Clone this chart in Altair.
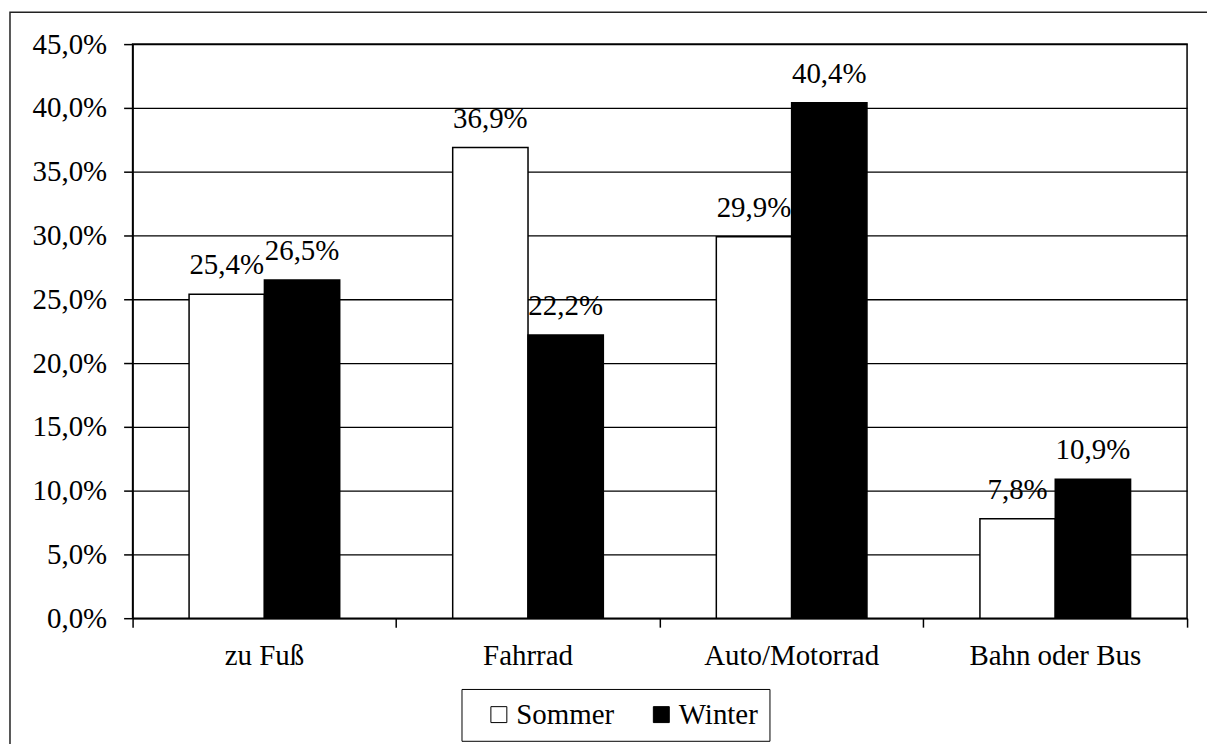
import altair as alt
import pandas as pd

categories = ["zu Fuß", "Fahrrad", "Auto/Motorrad", "Bahn oder Bus"]
seasons = ["Sommer", "Winter"]
sommer = [25.4, 36.9, 29.9, 7.8]
winter = [26.5, 22.2, 40.4, 10.9]

rows = []
for c, s, w in zip(categories, sommer, winter):
    rows.append({"cat": c, "season": "Sommer", "value": s})
    rows.append({"cat": c, "season": "Winter", "value": w})
df = pd.DataFrame(rows)

FONT = "Liberation Serif"
FS = 29

x = alt.X("cat:N", sort=categories, title=None,
          scale=alt.Scale(paddingInner=0, paddingOuter=0),
          axis=alt.Axis(labelAngle=0, bandPosition=1, tickExtra=True,
                        tickSize=9, tickWidth=1.5, tickColor="black",
                        domainColor="black", domainWidth=1.5,
                        labelBaseline="alphabetic", labelPadding=37,
                        labelFont=FONT, labelFontSize=FS, labelColor="black", grid=False))
y = alt.Y("value:Q", title=None,
          scale=alt.Scale(domain=[0, 45], nice=False),
          axis=alt.Axis(values=list(range(0, 50, 5)),
                        labelExpr="replace(format(datum.value, '.1f'), '.', ',') + '%'",
                        grid=True, gridColor="black", gridWidth=1.3, gridOpacity=1,
                        tickSize=9, tickWidth=1.5, tickColor="black",
                        domainColor="black", domainWidth=1.5,
                        labelPadding=17, labelFont=FONT, labelFontSize=FS, labelColor="black"))
xoff = alt.XOffset("season:N", sort=seasons,
                   scale=alt.Scale(paddingOuter=0.75, paddingInner=0))

base = alt.Chart(df)

bars = base.mark_bar(stroke="black", strokeWidth=1.5).encode(
    x=x, y=y, xOffset=xoff,
    color=alt.Color("season:N", sort=seasons, title=None,
                    scale=alt.Scale(domain=seasons, range=["white", "black"]),
                    legend=alt.Legend(orient="none", legendX=330, legendY=647,
                                      direction="horizontal", strokeColor="black",
                                      padding=11, symbolType="square", symbolSize=256,
                                      symbolStrokeColor="black", symbolStrokeWidth=1,
                                      labelFont=FONT, labelFontSize=FS, labelColor="black",
                                      columnPadding=20, labelOffset=3, symbolOffset=12)),
)

labels = base.mark_text(font=FONT, fontSize=FS, color="black",
                        baseline="alphabetic", dy=-20).transform_calculate(
    label="replace(format(datum.value, '.1f'), '.', ',') + '%'"
).encode(x=x, y=y, xOffset=xoff, text="label:N")

frame = alt.Chart(pd.DataFrame({"a": [0]})).mark_rect(
    fill=None, stroke="#222222", strokeWidth=1.5
).encode(x=alt.value(-123), x2=alt.value(1110), y=alt.value(-32), y2=alt.value(760))

chart = alt.layer(frame, bars, labels).properties(
    width=1058, height=576,
    autosize=alt.AutoSizeParams(type="none"),
    padding={"left": 125, "top": 35, "right": 20, "bottom": 125},
).configure_view(stroke="black", strokeWidth=1.5)

chart.save("out.html", embed_options={"renderer": "svg", "actions": False})
